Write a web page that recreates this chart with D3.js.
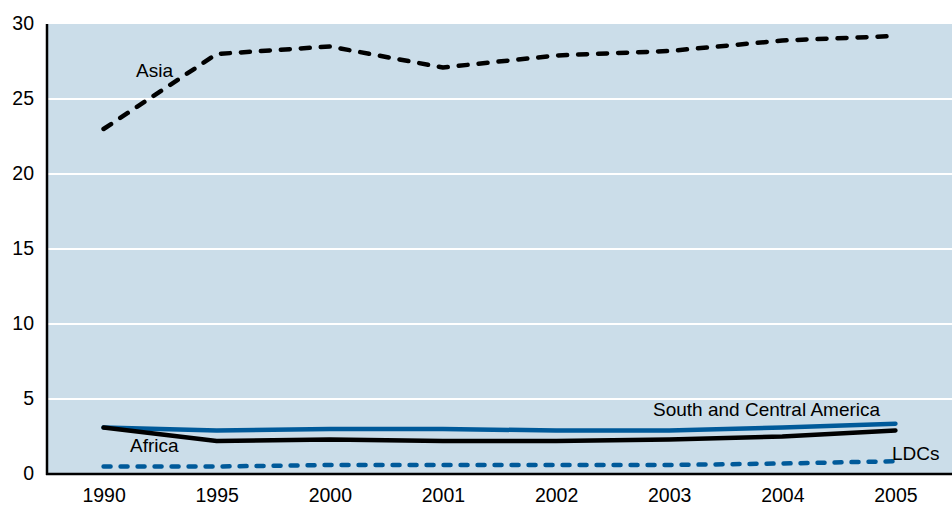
<!DOCTYPE html>
<html><head><meta charset="utf-8">
<script src="https://cdn.jsdelivr.net/npm/d3@7"></script>
<style>body{margin:0;background:#fff}svg{display:block}text{font-family:"Liberation Sans",Arial,Helvetica,sans-serif;fill:#000}</style>
</head><body><svg id="c" width="952" height="508"></svg>
<script>
const years = ["1990","1995","2000","2001","2002","2003","2004","2005"];
const asia = [23.0, 28.0, 28.5, 27.1, 27.9, 28.2, 28.9, 29.2];
const southCentralAmerica = [3.1, 2.9, 3.0, 3.0, 2.9, 2.9, 3.1, 3.35];
const africa = [3.1, 2.2, 2.3, 2.2, 2.2, 2.3, 2.5, 2.9];
const ldcs = [0.5, 0.5, 0.6, 0.6, 0.6, 0.6, 0.7, 0.85];
const yTicks = [0, 5, 10, 15, 20, 25, 30];

const svg = d3.select("#c");
const m = {l:47, r:0, t:24, b:34};
const W = 952, H = 508;
const x = d3.scalePoint().domain(years).range([m.l, W - m.r]).padding(0.5);
const y = d3.scaleLinear().domain([0, 30]).range([H - m.b, m.t]);

svg.append("rect").attr("x", m.l).attr("y", m.t).attr("width", W - m.l - m.r).attr("height", H - m.b - m.t).attr("fill", "#cbdde9");

svg.append("g").selectAll("line").data(yTicks.filter(d => d > 0 && d < 30)).join("line")
  .attr("x1", m.l).attr("x2", W - m.r).attr("y1", d => y(d)).attr("y2", d => y(d))
  .attr("stroke", "#fff").attr("stroke-width", 2);

const yAxis = svg.append("g").attr("transform", `translate(${m.l},0)`)
  .call(d3.axisLeft(y).tickValues(yTicks).tickSize(0).tickPadding(13));
yAxis.select(".domain").remove();
yAxis.selectAll("text").attr("font-size", 19.5).attr("dy", "0.27em").style("font-family", '"Liberation Sans",Arial,sans-serif');

const xAxis = svg.append("g").attr("transform", `translate(0,${H - m.b})`)
  .call(d3.axisBottom(x).tickSize(0).tickPadding(14));
xAxis.select(".domain").remove();
xAxis.selectAll("text").attr("font-size", 19.5).style("font-family", '"Liberation Sans",Arial,sans-serif');

svg.append("line").attr("x1", m.l).attr("x2", m.l).attr("y1", m.t).attr("y2", H - m.b + 1).attr("stroke", "#000").attr("stroke-width", 2.5);
svg.append("line").attr("x1", m.l - 1).attr("x2", W).attr("y1", H - m.b).attr("y2", H - m.b).attr("stroke", "#000").attr("stroke-width", 2.5);

const line = d3.line().x((d, i) => x(years[i])).y(d => y(d));
const series = [
  {v: southCentralAmerica, c: "#005a9a", dash: null},
  {v: africa, c: "#000", dash: null},
  {v: ldcs, c: "#005a9a", dash: "7,10"},
  {v: asia, c: "#000", dash: "9,11"}
];
series.forEach(s => {
  svg.append("path").attr("d", line(s.v)).attr("fill", "none").attr("stroke", s.c)
    .attr("stroke-width", 4.5).attr("stroke-linecap", "round").attr("stroke-linejoin", "round")
    .attr("stroke-dasharray", s.dash);
});

const labels = [
  {t: "Asia", x: 136, y: 77},
  {t: "Africa", x: 130, y: 452},
  {t: "South and Central America", x: 653, y: 416},
  {t: "LDCs", x: 892, y: 460}
];
svg.append("g").selectAll("text").data(labels).join("text")
  .attr("x", d => d.x).attr("y", d => d.y).attr("font-size", 19).text(d => d.t);
</script></body></html>
